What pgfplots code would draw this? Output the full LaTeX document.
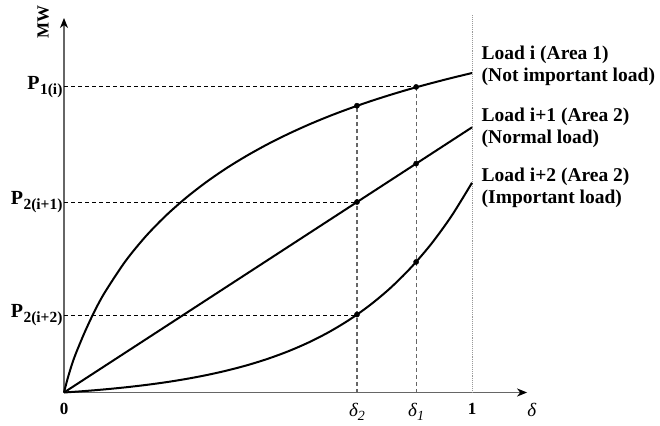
\documentclass[border=0pt]{standalone}
\usepackage{pgfplots}
\pgfplotsset{compat=1.18}
\usetikzlibrary{arrows.meta}
\usepackage{fontspec}
\setmainfont{Liberation Serif}
\newcommand{\PL}[1]{\textbf{\fontsize{20}{22}\selectfont P\kern0.5pt\raisebox{-5pt}{\fontsize{15.5}{16}\selectfont #1}}}
\newcommand{\DL}[1]{\fontsize{19}{21}\selectfont\textit{δ\raisebox{-4pt}{\fontsize{14}{15}\selectfont #1}}}
\begin{document}
\begin{tikzpicture}[x=1pt,y=1pt]
\path[use as bounding box] (0,0) rectangle (660,425);
\begin{axis}[
  at={(64pt,32.5pt)}, anchor=south west,
  scale only axis, width=463.1pt, height=374.5pt,
  xmin=0, xmax=1.135, ymin=0, ymax=0.918,
  axis lines=left,
  axis line style={draw=black!60, line width=1.6pt},
  x axis line style={-{Stealth[black,fill=black,length=10pt,width=8pt,inset=3pt]}},
  y axis line style={-{Stealth[black,fill=black,length=10pt,width=8pt,inset=3pt]}},
  clip=false,
  xtick={0,0.718,0.863,1},
  xticklabels={\textbf{0}, \DL{2}, \DL{1}, \textbf{1}},
  ytick={0.190,0.467,0.749},
  yticklabels={\PL{2(i+2)}, \PL{2(i+1)}, \PL{1(i)}},
  major tick length=0,
  xticklabel style={font=\fontsize{17}{20}\selectfont, yshift=-7pt},
  yticklabel style={xshift=2pt},
]
% reference lines
\addplot[gray!80, densely dotted, line width=0.9pt] coordinates {(1,0) (1,0.925)};
\addplot[black, dash pattern=on 4pt off 3pt, line width=0.9pt] coordinates {(0,0.749) (0.863,0.749)};
\addplot[black, dash pattern=on 4pt off 3pt, line width=0.9pt] coordinates {(0,0.467) (0.718,0.467)};
\addplot[black, dash pattern=on 4pt off 3pt, line width=0.9pt] coordinates {(0,0.190) (0.718,0.190)};
\addplot[gray!80!black, dash pattern=on 4pt off 3pt, line width=1.1pt] coordinates {(0.718,0) (0.718,0.703)};
\addplot[gray!80!black, dash pattern=on 4pt off 3pt, line width=1.1pt] coordinates {(0.863,0) (0.863,0.749)};
% Load i (Area 1)
\addplot[black, line width=2pt, smooth] coordinates {
(0,0) (0.01,0.038) (0.025,0.085) (0.05,0.146) (0.075,0.1995) (0.1,0.2453)
(0.15,0.3211) (0.2,0.3824) (0.25,0.4338) (0.3,0.4780) (0.35,0.5167) (0.4,0.5510)
(0.45,0.5815) (0.5,0.6091) (0.55,0.6340) (0.6,0.6567) (0.65,0.6774) (0.7,0.6962)
(0.75,0.7136) (0.8,0.7296) (0.85,0.7445) (0.9,0.7581) (0.95,0.7710) (1.0,0.7831)};
% Load i+1 (Area 2)
\addplot[black, line width=2pt] coordinates {(0,0) (1,0.650)};
% Load i+2 (Area 2)
\addplot[black, line width=2pt, smooth] coordinates {
(0,0) (0.05,0.0035) (0.1,0.0077) (0.15,0.0126) (0.2,0.0184) (0.25,0.0252)
(0.3,0.0333) (0.35,0.0428) (0.4,0.0540) (0.45,0.0672) (0.5,0.0828)
(0.55,0.1012) (0.6,0.1229) (0.65,0.1485) (0.7,0.1787) (0.75,0.2143)
(0.8,0.2562) (0.85,0.3058) (0.9,0.3641) (0.95,0.4330) (1.0,0.5142)};
% points
\addplot[only marks, mark=*, mark size=2.6pt, black] coordinates {
(0.718,0.703) (0.863,0.749) (0.718,0.467) (0.863,0.561) (0.718,0.191) (0.863,0.320)};
% labels
\node[anchor=north, yshift=-7pt, inner sep=0.333em] at (axis cs:1.147,0) {\fontsize{19}{21}\selectfont\textit{δ}};
\node[rotate=90, font=\fontsize{17}{20}\selectfont\bfseries] at (axis cs:-0.051,0.908) {MW};
\node[anchor=west, align=left, font=\fontsize{19.5}{22}\selectfont\bfseries] at (axis cs:1.015,0.800) {Load i (Area 1)\\(Not important load)};
\node[anchor=west, align=left, font=\fontsize{19.5}{22}\selectfont\bfseries] at (axis cs:1.015,0.648) {Load i+1 (Area 2)\\(Normal load)};
\node[anchor=west, align=left, font=\fontsize{19.5}{22}\selectfont\bfseries] at (axis cs:1.015,0.501) {Load i+2 (Area 2)\\(Important load)};
\end{axis}
\end{tikzpicture}
\end{document}
